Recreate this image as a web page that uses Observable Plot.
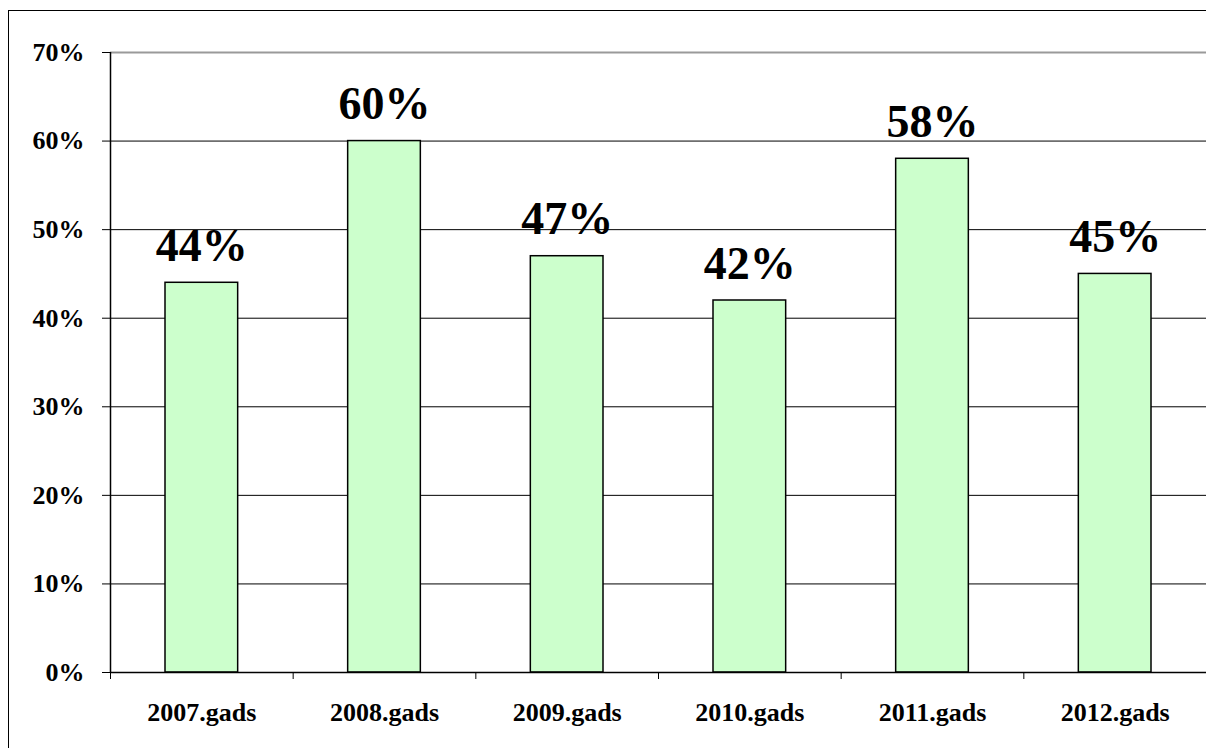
<!DOCTYPE html>
<html><head><meta charset="utf-8">
<script src="https://cdn.jsdelivr.net/npm/d3@7"></script>
<script src="https://cdn.jsdelivr.net/npm/@observablehq/plot@0.6"></script>
<style>
html,body{margin:0;padding:0;overflow:hidden;background:#fff;width:1206px;height:748px}
#frame{position:absolute;left:8px;top:10px;width:1300px;height:800px;border:1px solid #000;box-sizing:border-box;pointer-events:none}
#chart{position:absolute;left:0;top:0}
#chart svg text{font-family:"Liberation Serif","Times New Roman",serif !important;font-weight:bold}
</style></head><body>
<div id="chart"></div><div id="frame"></div>
<script>
const categories = ["2007.gads","2008.gads","2009.gads","2010.gads","2011.gads","2012.gads"];
const values = [0.44,0.60,0.47,0.42,0.58,0.45];
const valueLabels = ["44%","60%","47%","42%","58%","45%"];
const yTicks = [0,0.1,0.2,0.3,0.4,0.5,0.6,0.7];
const data = categories.map((c,i)=>({i, category:c, value:values[i], label:valueLabels[i]}));
const font = "Liberation Serif, Times New Roman, serif";
const plot = Plot.plot({
  width:1206, height:748, marginLeft:110, marginRight:0, marginTop:52, marginBottom:76,
  style:{fontFamily:font, fontWeight:"bold", background:"transparent", color:"#000"},
  x:{domain:[0,6], label:null}, y:{domain:[0,0.7], label:null},
  marks:[
    Plot.ruleY(yTicks.slice(1,-1), {stroke:"#000", strokeWidth:1}),
    Plot.ruleY([0.7], {stroke:"#9a9a9a", strokeWidth:2}),
    Plot.ruleX([6], {stroke:"#d0d0d0", strokeWidth:1}),
    Plot.rectY(data,{x1:"i", x2:d=>d.i+1, y:"value", insetLeft:55, insetRight:55, fill:"#CCFFCC", stroke:"#000", strokeWidth:1.5}),
    Plot.text(data,{x:d=>d.i+0.5, y:"value", text:"label", dy:-22, lineAnchor:"bottom", fontSize:46, fontWeight:"bold", fontFamily:font, fill:"#000"}),
    Plot.axisY({ticks:yTicks, tickFormat:d3.format(".0%"), tickSize:8, tickPadding:18, fontSize:26, fontWeight:"bold", label:null}),
    Plot.axisX({ticks:d3.range(7), tickFormat:()=>"", tickSize:7, label:null}),
    Plot.axisX({ticks:categories.map((c,i)=>i+0.5), tickFormat:d=>categories[Math.round(d-0.5)], tickSize:0, tickPadding:30, fontSize:26, fontWeight:"bold", label:null}),
    Plot.ruleX([0], {stroke:"#000", strokeWidth:1.5}),
    Plot.ruleY([0], {stroke:"#000", strokeWidth:1.5})
  ]
});
document.getElementById("chart").append(plot);
</script>
</body></html>
